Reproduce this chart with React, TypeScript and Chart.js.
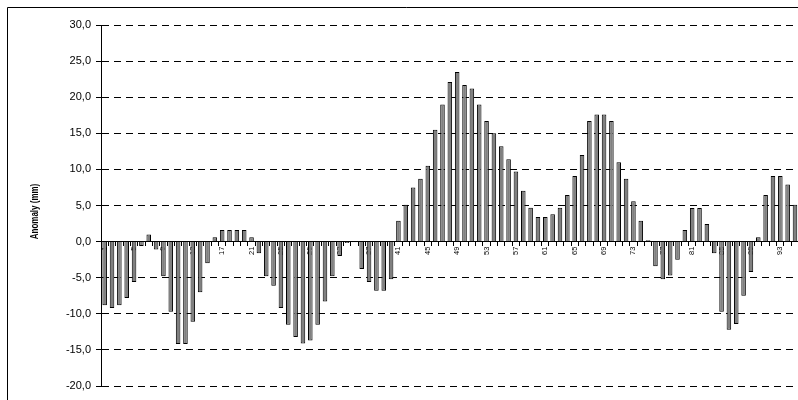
import { useEffect, useRef } from 'react';
import { Chart, registerables } from 'chart.js';

Chart.register(...registerables);

const categories: string[] = [
  '1', '2', '3', '4', '5', '6', '7', '8', '9', '10', '11', '12', '13', '14', '15', '16', '17', '18', '19', '20',
  '21', '22', '23', '24', '25', '26', '27', '28', '29', '30', '31', '32', '33', '34', '35', '36', '37', '38', '39', '40',
  '41', '42', '43', '44', '45', '46', '47', '48', '49', '50', '51', '52', '53', '54', '55', '56', '57', '58', '59', '60',
  '61', '62', '63', '64', '65', '66', '67', '68', '69', '70', '71', '72', '73', '74', '75', '76', '77', '78', '79', '80',
  '81', '82', '83', '84', '85', '86', '87', '88', '89', '90', '91', '92', '93', '94', '95',
];

const anomaly: number[] = [
  -8.8, -9.2, -8.8, -7.8, -5.6, -0.6, 1.0, -1.1, -4.8, -9.7,
  -14.2, -14.2, -11.1, -7.0, -3.0, 0.6, 1.6, 1.6, 1.6, 1.6,
  0.6, -1.6, -4.8, -6.1, -9.2, -11.5, -13.2, -14.1, -13.7, -11.5,
  -8.3, -4.8, -2.0, -0.2, -0.1, -3.8, -5.6, -6.8, -6.8, -5.2,
  2.9, 5.1, 7.5, 8.7, 10.5, 15.5, 19.0, 22.1, 23.5, 21.7,
  21.2, 19.0, 16.7, 15.0, 13.2, 11.4, 9.7, 7.05, 4.7, 3.4,
  3.4, 3.8, 4.7, 6.45, 9.1, 12.0, 16.7, 17.6, 17.6, 16.7,
  11.0, 8.7, 5.6, 2.9, 0.2, -3.4, -5.2, -4.7, -2.5, 1.6,
  4.65, 4.65, 2.45, -1.6, -9.7, -12.2, -11.4, -7.5, -4.2, 0.6,
  6.45, 9.1, 9.1, 7.9, 5.1,
];

const yMin = -20;
const yMax = 30;
const yStep = 5;
const labelEvery = 4;
const yTitle = 'Anomaly (mm)';

const FONT = '"Liberation Sans", Arial, sans-serif';

const framePlugin = {
  id: 'frame',
  beforeDraw(chart: any) {
    const ctx = chart.ctx;
    ctx.save();
    ctx.strokeStyle = '#000';
    ctx.lineWidth = 1;
    ctx.beginPath();
    ctx.moveTo(7.5, chart.height);
    ctx.lineTo(7.5, 7.5);
    ctx.lineTo(chart.width, 7.5);
    ctx.stroke();
    ctx.restore();
  },
};

const yTitlePlugin = {
  id: 'yTitle',
  afterDraw(chart: any) {
    const ctx = chart.ctx;
    const area = chart.chartArea;
    ctx.save();
    ctx.translate(35, (area.top + area.bottom) / 2 + 6);
    ctx.rotate(-Math.PI / 2);
    ctx.scale(0.8, 1);
    ctx.fillStyle = '#000';
    ctx.font = `bold 10px ${FONT}`;
    ctx.textAlign = 'center';
    ctx.textBaseline = 'middle';
    ctx.fillText(yTitle, 0, 0);
    ctx.restore();
  },
};

export default function App() {
  const ref = useRef<HTMLCanvasElement | null>(null);

  useEffect(() => {
    if (!ref.current) return;
    const chart = new Chart(ref.current, {
      type: 'bar',
      data: {
        labels: categories,
        datasets: [
          {
            data: anomaly,
            backgroundColor: '#808080',
            borderColor: '#000000',
            borderWidth: 1,
            barPercentage: 0.62,
            categoryPercentage: 1,
          },
        ],
      },
      options: {
        responsive: false,
        animation: false,
        layout: { padding: { top: 25, right: 0, bottom: 14, left: 0 } },
        plugins: {
          legend: { display: false },
          tooltip: { enabled: false },
        },
        scales: {
          x: {
            type: 'category',
            position: { y: 0 },
            grid: {
              drawOnChartArea: false,
              drawTicks: true,
              tickLength: 4,
              color: '#000',
              offset: true,
            },
            border: { display: true, color: '#000', width: 1 },
            ticks: {
              autoSkip: false,
              minRotation: 90,
              maxRotation: 90,
              padding: 1,
              color: '#000',
              font: { family: FONT, size: 7.5 },
              callback: (_v: any, i: number) => (i % labelEvery === 0 ? categories[i] : ''),
            },
          },
          y: {
            min: yMin,
            max: yMax,
            afterFit: (scale: any) => {
              scale.width = 101;
            },
            ticks: {
              stepSize: yStep,
              color: '#000',
              padding: 5,
              font: { family: FONT, size: 11 },
              callback: (v: any) => Number(v).toFixed(1).replace('.', ','),
            },
            grid: {
              color: '#000',
              lineWidth: 1,
              tickLength: 5,
              tickColor: '#000',
            },
            border: { display: true, color: '#000', width: 1, dash: [7, 5] },
            title: { display: false },
          },
        },
      },
      plugins: [framePlugin, yTitlePlugin],
    } as any);
    return () => chart.destroy();
  }, []);

  return (
    <div style={{ position: 'absolute', left: 0, top: 0, width: 798, height: 400, overflow: 'hidden', background: '#fff' }}>
      <canvas ref={ref} width={805} height={400} style={{ display: 'block' }} />
    </div>
  );
}
